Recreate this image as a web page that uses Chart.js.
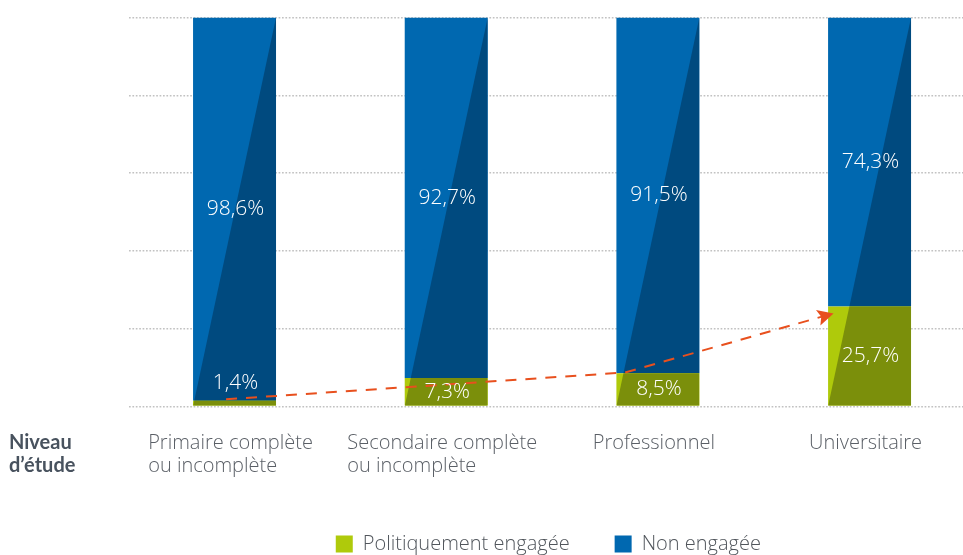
<!DOCTYPE html>
<html><head><meta charset="utf-8">
<script src="https://cdn.jsdelivr.net/npm/chart.js@4/dist/chart.umd.min.js"></script>
<style>
html,body{margin:0;padding:0;background:#fff;overflow:hidden;}
#wrap{position:relative;width:1012px;height:564px;}
</style></head><body>
<div id="wrap"><canvas id="c"></canvas></div>
<script>
// ---- data ----
const categories = [["Primaire complète","ou incomplète"],["Secondaire complète","ou incomplète"],["Professionnel"],["Universitaire"]];
const seriesNames = ["Politiquement engagée","Non engagée"];
const engagedValues = [1.4, 7.3, 8.5, 25.7];
const notEngagedValues = [98.6, 92.7, 91.5, 74.3];
const yTicks = [0, 20, 40, 60, 80, 100];
const axisTitle = ["Niveau","d’étude"];
// trend arrow (x in category-index units, y in %)
const arrowX = [-0.04, 1.845, 2.83];
const arrowY = [1.8, 8.7, 23.9];

// ---- styles ----
const FONT = "'Open Sans', Lato, sans-serif";
const TITLE_FONT = "Lato, 'Open Sans', sans-serif";
const GREEN = '#AFCA0B', GREEN_DARK = '#7B8F0B';
const BLUE = '#0068B0', BLUE_DARK = '#004A7F';
const ORANGE = '#E8501E';
const LEGEND_PAD = 45;
const LEGEND_FONT = 20;

const fmt = v => v.toFixed(1).replace('.', ',') + '%';

const shadePlugin = {
  id: 'shade',
  afterDatasetDraw(chart, args) {
    const ds = chart.data.datasets[args.index];
    if (!ds.shadeColor) return;
    const ys = chart.scales.y;
    const top = ys.getPixelForValue(ys.max), bot = ys.getPixelForValue(ys.min);
    const ctx = chart.ctx;
    args.meta.data.forEach(el => {
      const p = el.getProps(['x','y','base','width'], true);
      const L = p.x - p.width/2, R = p.x + p.width/2;
      ctx.save();
      ctx.beginPath();
      ctx.rect(L, Math.min(p.y, p.base), p.width, Math.abs(p.base - p.y));
      ctx.clip();
      ctx.beginPath();
      ctx.moveTo(R, top); ctx.lineTo(R, bot); ctx.lineTo(L, bot); ctx.closePath();
      ctx.fillStyle = ds.shadeColor;
      ctx.fill();
      ctx.restore();
    });
  }
};

const labelPlugin = {
  id: 'labels',
  afterDatasetsDraw(chart) {
    const ctx = chart.ctx;
    // arrow head
    chart.data.datasets.forEach((ds, di) => {
      if (ds.type !== 'line') return;
      const pts = chart.getDatasetMeta(di).data;
      const a = pts[pts.length-2], b = pts[pts.length-1];
      const ang = Math.atan2(b.y - a.y, b.x - a.x);
      const len = 16, hw = 8;
      ctx.save();
      ctx.translate(b.x, b.y); ctx.rotate(ang);
      ctx.beginPath(); ctx.moveTo(0,0); ctx.lineTo(-len, -hw); ctx.lineTo(-len*0.8, 0); ctx.lineTo(-len, hw); ctx.closePath();
      ctx.fillStyle = ds.borderColor; ctx.fill();
      ctx.restore();
    });
    // value labels
    ctx.save();
    ctx.font = "300 21px " + FONT;
    ctx.fillStyle = '#ffffff';
    ctx.textAlign = 'center';
    ctx.textBaseline = 'middle';
    chart.data.datasets.forEach((ds, di) => {
      if (!ds.shadeColor) return;
      chart.getDatasetMeta(di).data.forEach((el, i) => {
        const h = Math.abs(el.base - el.y);
        const cy = h < 20 ? Math.min(el.y, el.base) - 18 : (el.y + el.base) / 2;
        ctx.fillText(fmt(ds.data[i]), el.x + 1, cy);
      });
    });
    ctx.restore();
  },
  afterDraw(chart) {
    const ctx = chart.ctx, xs = chart.scales.x, ca = chart.chartArea;
    ctx.save();
    ctx.textBaseline = 'alphabetic';
    ctx.textAlign = 'left';
    // category labels
    ctx.font = "300 20px " + FONT;
    ctx.fillStyle = '#5a5f66';
    categories.forEach((lines, i) => {
      const w = Math.max(...lines.map(t => ctx.measureText(t).width));
      const left = xs.getPixelForValue(i) - w/2 - 4;
      lines.forEach((t, k) => ctx.fillText(t, left, ca.bottom + 43 + k*23));
    });
    // axis title
    ctx.font = "bold 20px " + TITLE_FONT;
    ctx.fillStyle = '#48525e';
    axisTitle.forEach((t, k) => ctx.fillText(t, 9, ca.bottom + 43 + k*23));
    ctx.restore();
  }
};

new Chart(document.getElementById('c'), {
  type: 'bar',
  data: {
    labels: categories,
    datasets: [
      { label: seriesNames[0], data: engagedValues, backgroundColor: GREEN, shadeColor: GREEN_DARK,
        categoryPercentage: 1, barPercentage: 0.392, grouped: false, order: 1 },
      { label: seriesNames[1], data: notEngagedValues, backgroundColor: BLUE, shadeColor: BLUE_DARK,
        categoryPercentage: 1, barPercentage: 0.392, grouped: false, order: 1 },
      { type: 'line', label: 'trend', xAxisID: 'xa', stack: 'arrow',
        data: arrowX.map((x, i) => ({ x, y: arrowY[i] })),
        borderColor: ORANGE, borderWidth: 2, borderDash: [11, 9], pointRadius: 0, fill: false, tension: 0, order: 0 }
    ]
  },
  options: {
    responsive: true,
    maintainAspectRatio: false,
    animation: false,
    devicePixelRatio: 1,
    layout: { padding: { left: 84.7, right: 0, top: 17.5, bottom: 0 } },
    scales: {
      x: {
        stacked: true,
        grid: { display: false },
        border: { display: false },
        ticks: { display: false },
        afterFit(s) { s.height = 564 - (LEGEND_FONT + LEGEND_PAD + 10) - 406.3; }
      },
      xa: { type: 'linear', display: false, offset: false, min: -0.5, max: 3.5, grid: { offset: false } },
      y: {
        stacked: true, min: 0, max: 100,
        afterBuildTicks(s) { s.ticks = yTicks.map(v => ({ value: v })); },
        ticks: { display: false },
        grid: { color: '#c2c2c2', lineWidth: 1.5, drawTicks: false },
        border: { display: false, dash: [1.7, 1.7] },
        afterFit(s) { s.width = 44; }
      },
      y2: {
        position: 'right', display: true,
        grid: { display: false, drawTicks: false }, ticks: { display: false }, border: { display: false },
        afterFit(s) { s.width = 36.6; }
      }
    },
    plugins: {
      tooltip: { enabled: false },
      legend: {
        position: 'bottom',
        labels: {
          filter: item => item.datasetIndex < 2,
          boxWidth: 17, boxHeight: 17, padding: LEGEND_PAD,
          color: '#51565c',
          font: { family: FONT, size: LEGEND_FONT, weight: '300' }
        }
      }
    }
  },
  plugins: [shadePlugin, labelPlugin]
});
</script>
</body></html>
